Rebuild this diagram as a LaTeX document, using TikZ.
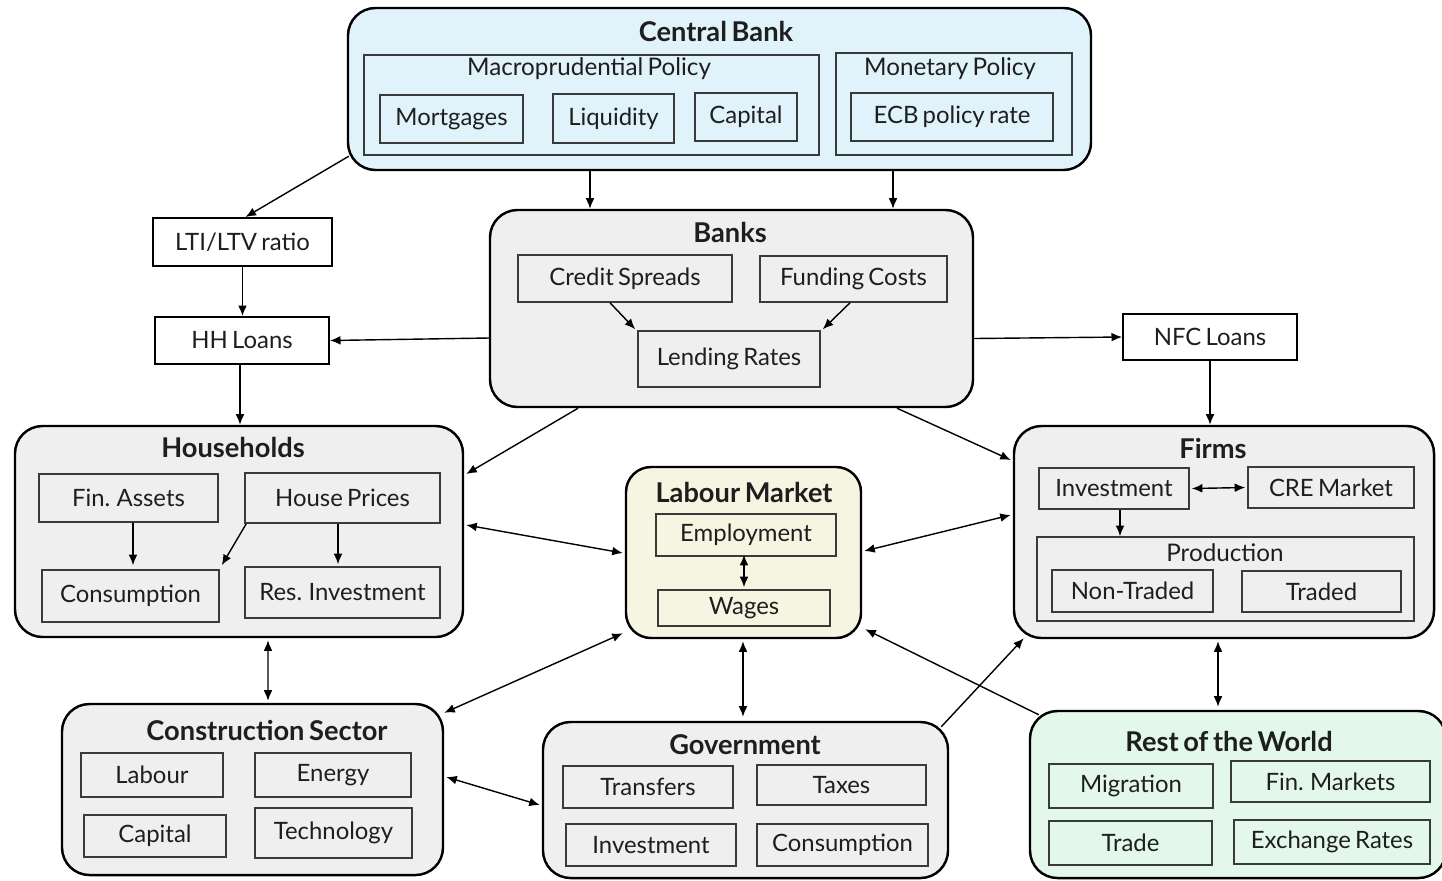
\documentclass[tikz,border=0pt]{standalone}
\usepackage{fontspec}
\setmainfont{Lato}[WordSpace=0.7]
\usetikzlibrary{arrows.meta,calc}
\definecolor{cbfill}{HTML}{E0F3FB}
\definecolor{grfill}{HTML}{EFEFEF}
\definecolor{lmfill}{HTML}{F5F5E2}
\definecolor{rwfill}{HTML}{E3F8EA}
\definecolor{txt}{HTML}{1E1E1E}
\definecolor{subline}{HTML}{3A3A3A}
\newcommand\mybox[7]{\node[#2,minimum width={(#5-#3)*0.02cm},minimum height={(#6-#4)*0.02cm},inner sep=0pt] (#1) at ({(#3+#5)/2},{(#4+#6)/2}) {#7};}
\tikzset{
  x=0.02cm,y=-0.02cm,
  group/.style={draw=black,line width=1.4pt,rounded corners=0.55cm},
  sub/.style={draw=subline,line width=0.9pt,text=txt,font=\fontsize{13.6}{15}\selectfont},
  plain/.style={draw=black,line width=1.1pt,fill=white,text=txt,font=\fontsize{13.6}{15}\selectfont},
  ttl/.style={text=txt,font=\fontsize{15.5}{17}\selectfont\bfseries,inner sep=0pt},
  stl/.style={text=txt,font=\fontsize{13.8}{15}\selectfont,inner sep=0pt},
  arr/.style={draw=black,line width=0.8pt,-{Latex[length=6pt,width=5pt]}},
  darr/.style={draw=black,line width=0.8pt,{Latex[length=6pt,width=5pt]}-{Latex[length=6pt,width=5pt]}},
}
\begin{document}
\begin{tikzpicture}
\useasboundingbox (0,0) rectangle (1442,880);
% Central Bank
\mybox{cb}{group,fill=cbfill}{348}{8}{1091}{170}{}
\node[ttl] (cbt) at (716,31) {Central Bank};
\mybox{mp}{sub}{364}{55}{819}{155}{}
\node[stl] (mpt) at (589,69) {Macroprudential Policy};
\mybox{mort}{sub}{380}{95}{523}{143}{Mortgages}
\mybox{liq}{sub}{553}{94}{674}{143}{Liquidity}
\mybox{cap}{sub}{695}{93}{797}{141}{Capital}
\mybox{mon}{sub}{836}{53}{1072}{155}{}
\node[stl] (mont) at (950,69) {Monetary Policy};
\mybox{ecb}{sub}{851}{93}{1053}{141}{ECB policy rate}
% loans
\mybox{lti}{plain}{153}{218}{332}{266}{LTI/LTV ratio}
\mybox{hhl}{plain}{155}{317}{329}{364}{HH Loans}
\mybox{nfc}{plain}{1123}{314}{1297}{360}{NFC Loans}
% Banks
\mybox{banks}{group,fill=grfill}{490}{210}{973}{407}{}
\node[ttl] (bankst) at (730,232) {Banks};
\mybox{crs}{sub}{518}{255}{732}{302}{Credit Spreads}
\mybox{fc}{sub}{760}{256}{947}{302}{Funding Costs}
\mybox{lr}{sub}{638}{331}{820}{387}{Lending Rates}
% Households
\mybox{hh}{group,fill=grfill}{15}{426}{463}{637}{}
\node[ttl] (hht) at (233,447) {Households};
\mybox{fa}{sub}{39}{474}{218}{522}{Fin. Assets}
\mybox{hp}{sub}{245}{473}{440}{523}{House Prices}
\mybox{cons}{sub}{42}{570}{219}{622}{Consumption}
\mybox{ri}{sub}{245}{567}{440}{618}{Res. Investment}
% Labour market
\mybox{lm}{group,fill=lmfill,rounded corners=0.5cm}{626}{467}{861}{638}{}
\node[ttl] (lmt) at (744,492) {Labour Market};
\mybox{emp}{sub}{656}{514}{836}{556}{Employment}
\mybox{wag}{sub}{658}{590}{830}{626}{Wages}
% Firms
\mybox{firms}{group,fill=grfill}{1014}{426}{1434}{638}{}
\node[ttl] (firmst) at (1213,448) {Firms};
\mybox{inv}{sub}{1039}{468}{1189}{509}{Investment}
\mybox{cre}{sub}{1248}{467}{1414}{508}{CRE Market}
\mybox{prod}{sub}{1037}{537}{1414}{621}{}
\node[stl] (prodt) at (1225,553) {Production};
\mybox{nt}{sub}{1052}{570}{1213}{612}{Non-Traded}
\mybox{tr}{sub}{1242}{571}{1401}{612}{Traded}
% Construction
\mybox{cs}{group,fill=grfill}{62}{704}{443}{875}{}
\node[ttl] (cst) at (267,730) {Construction Sector};
\mybox{lab}{sub}{81}{753}{223}{797}{Labour}
\mybox{ene}{sub}{255}{753}{411}{797}{Energy}
\mybox{ccap}{sub}{84}{815}{226}{857}{Capital}
\mybox{tech}{sub}{255}{808}{412}{858}{Technology}
% Government
\mybox{gov}{group,fill=grfill}{543}{722}{948}{878}{}
\node[ttl] (govt) at (745,745) {Government};
\mybox{trf}{sub}{563}{766}{733}{808}{Transfers}
\mybox{tax}{sub}{757}{765}{926}{805}{Taxes}
\mybox{ginv}{sub}{566}{824}{736}{866}{Investment}
\mybox{gcons}{sub}{757}{824}{928}{866}{Consumption}
% Rest of the World
\mybox{row}{group,fill=rwfill}{1030}{711}{1446}{878}{}
\node[ttl] (rowt) at (1229,741) {Rest of the World};
\mybox{mig}{sub}{1049}{764}{1213}{808}{Migration}
\mybox{fm}{sub}{1231}{761}{1430}{802}{Fin. Markets}
\mybox{trd}{sub}{1049}{821}{1212}{865}{Trade}
\mybox{exr}{sub}{1234}{820}{1430}{864}{Exchange Rates}
% inner arrows
\draw[arr] ($(crs.south)+(-15,0)$) -- ($(lr.north west)+(-2,-1)$);
\draw[arr] ($(fc.south)+(-3.5,0)$) -- ($(lr.north east)+(2,-1)$);
\draw[arr] ($(fa.south)+(4.5,0)$) -- ($(cons.north)+(2.5,-4)$);
\draw[arr] ($(hp.south west)+(2,0)$) -- ($(cons.north east)+(2,-4)$);
\draw[arr] ($(hp.south)+(-4.5,0)$) -- ($(ri.north)+(-4.5,-2)$);
\draw[darr] ($(emp.south)+(-2,-2)$) -- ($(wag.north)+(0,-2)$);
\draw[darr] ($(inv.east)+(2,0)$) -- ($(cre.west)+(-2,0)$);
\draw[arr] ($(inv.south)+(6,0)$) -- ($(prod.north)+(-105.5,0)$);
% outer arrows
\draw[arr] ($(cb.south west)+(2,-15)$) -- ($(lti.north)+(3,0)$);
\draw[arr] (lti.south) -- (lti.south |- hhl.north);
\draw[arr] ($(cb.south)+(-129.5,0)$) -- ($(banks.north)+(-141.5,0)$);
\draw[arr] ($(cb.south)+(173.5,0)$) -- ($(banks.north)+(161.5,0)$);
\draw[arr] ($(banks.west)+(0,29.5)$) -- (hhl.east);
\draw[arr] ($(banks.east)+(0,30)$) -- (nfc.west);
\draw[arr] ($(hhl.south)+(-2,0)$) -- ($(hh.north)+(1,0)$);
\draw[arr] (nfc.south) -- (nfc.south |- firms.north);
\draw[arr] ($(banks.south)+(-153.5,0)$) -- ($(hh.east)+(2,-57.5)$);
\draw[arr] ($(banks.south)+(165.5,0)$) -- ($(firms.west)+(-2,-72)$);
\draw[darr] ($(hh.east)+(2,-6.5)$) -- ($(lm.west)+(-2,0.5)$);
\draw[darr] ($(firms.west)+(-2,-17)$) -- ($(lm.east)+(2,-1.5)$);
\draw[darr] ($(hh.south)+(29,2)$) -- ($(cs.north)+(15.5,-2)$);
\draw[darr] ($(cs.north east)+(0,10)$) -- ($(lm.south west)+(-2,-6)$);
\draw[darr] ($(lm.south)+(-0.5,2)$) -- ($(gov.north)+(-2.5,-4)$);
\draw[darr] ($(cs.east)+(2,-12.5)$) -- ($(gov.west)+(-2,5)$);
\draw[arr] ($(gov.north east)+(-8,6)$) -- ($(firms.south west)+(11,-1)$);
\draw[arr] ($(row.north west)+(10,5)$) -- ($(lm.south east)+(3,-10)$);
\draw[darr] ($(firms.south)+(-6,2)$) -- ($(row.north)+(-20,-3)$);
\end{tikzpicture}
\end{document}
